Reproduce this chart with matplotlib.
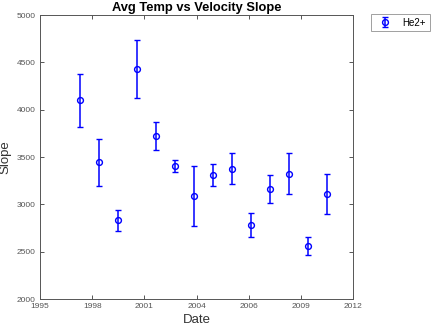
import matplotlib
matplotlib.use("Agg")
import matplotlib.pyplot as plt
import numpy as np

plt.rcParams["font.family"] = ["Liberation Sans", "DejaVu Sans"]

# ---- data ---------------------------------------------------------------
years = [1997.17, 1998.20, 1999.21, 2000.26, 2001.29, 2002.32, 2003.35,
         2004.40, 2005.44, 2006.47, 2007.50, 2008.55, 2009.58, 2010.61]
slope = [4100, 3445, 2830, 4430, 3725, 3405, 3090,
         3305, 3375, 2782, 3162, 3325, 2557, 3106]
err   = [282, 250, 112, 308, 148, 67, 318,
         116, 162, 130, 151, 215, 93, 211]

x_ticks = np.linspace(1995, 2012, 7)
x_labels = ["1995", "1998", "2001", "2004", "2006", "2009", "2012"]
y_ticks = [2000, 2500, 3000, 3500, 4000, 4500, 5000]

AX_C = "#555555"

fig = plt.figure(figsize=(4.36, 3.27), dpi=100)
ax = fig.add_axes([40 / 436, 28 / 327, 313 / 436, 284 / 327])

ax.errorbar(years, slope, yerr=err, fmt="o", color="blue",
            markerfacecolor="none", markersize=4.2, markeredgewidth=1.0,
            elinewidth=1.1, capsize=2.2, capthick=1.1, label="He2+")

ax.set_xlim(1995, 2012)
ax.set_ylim(2000, 5000)
ax.set_xticks(x_ticks)
ax.set_xticklabels(x_labels)
ax.set_yticks(y_ticks)

ax.tick_params(direction="in", length=3, width=0.7, colors=AX_C,
               labelsize=6, top=True, right=True, pad=3)
for sp in ax.spines.values():
    sp.set_color(AX_C)
    sp.set_linewidth(0.7)

ax.set_xlabel("Date", fontsize=9.5, color="#333333", labelpad=3)
ax.set_ylabel("Slope", fontsize=9.5, color="#333333", labelpad=4)
ax.set_title("Avg Temp vs Velocity Slope", fontsize=9.3, fontweight="bold",
             pad=3)

leg = fig.legend(loc="upper left", bbox_to_anchor=(371 / 436, 1 - 13.7 / 327),
                 fontsize=7, frameon=True, fancybox=False,
                 edgecolor="#888888", borderpad=0.4, handlelength=2.0,
                 handletextpad=0.8, borderaxespad=0)
leg.get_frame().set_linewidth(0.7)

fig.savefig("out.png", dpi=100)
